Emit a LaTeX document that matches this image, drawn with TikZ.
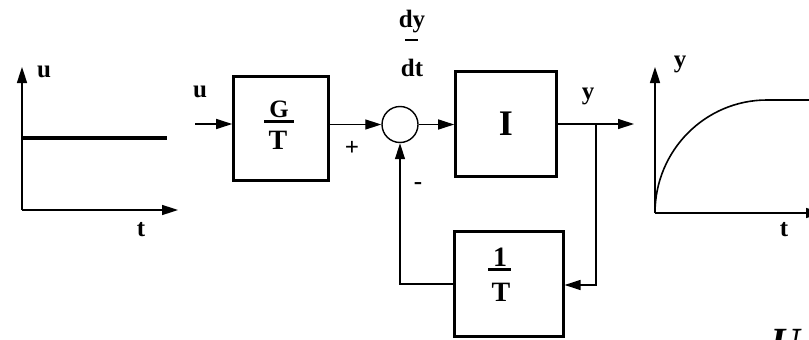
\documentclass[tikz,border=0pt]{standalone}
\usepackage{fontspec}
\setmainfont{Liberation Serif}
\usepackage{tikz}
\usetikzlibrary{positioning,arrows.meta,calc}
\tikzset{
    block/.style={rectangle, draw, line width=2.6pt, inner sep=0pt, align=center},
    sumpoint/.style={circle, draw, line width=1.4pt, minimum size=36pt, inner sep=0pt},
    signal/.style={-{Triangle[length=16pt, width=10pt]}, line width=1.3pt},
    wire/.style={line width=1.3pt},
    axis/.style={-{Triangle[length=16pt, width=10pt]}, line width=1.6pt},
    lbl/.style={font=\fontsize{25}{25}\selectfont\bfseries, inner sep=0pt},
    frac/.style={font=\fontsize{28}{28}\selectfont\bfseries, inner sep=0pt}
}

\begin{document}
\begin{tikzpicture}[x=1pt, y=-1pt]
\useasboundingbox (0,0) rectangle (809,340);
\clip (0,0) rectangle (809,340);

% ── Input signal plot ──
\coordinate (uo) at (22,210);
\draw[axis] (uo) -- (22,67);
\draw[axis] (uo) -- (178,210);
\draw[line width=4pt] (22,138) -- (167,138);
\node[lbl] (ulabel) at (44,72) {u};
\node[lbl] (ut) at (141,230) {t};

% ── Blocks ──
\node[block, minimum width=95pt, minimum height=104pt] (gblock) at (281,128.5) {};
\node[frac, font=\fontsize{25}{25}\selectfont\bfseries] (gnum) at (279,109) {G};
\draw[line width=2.2pt] (264,121.5) -- (294,121.5);
\node[frac] (gden) at (278,140) {T};

\node[sumpoint] (sum) at (400,124.5) {};

\node[block, minimum width=101pt, minimum height=105pt, font=\fontsize{36}{36}\selectfont\bfseries] (iblock) at (506,124) {I};

\node[block, minimum width=108.5pt, minimum height=105pt] (tblock) at (509,284) {};
\node[frac] (tnum) at (500,257) {1};
\draw[line width=2.2pt] (488,269.5) -- (511,269.5);
\node[frac] (tden) at (501,292) {T};

% ── Labels ──
\node[lbl] (uin) at (200,92) {u};
\node[lbl] (dy) at (412,22) {dy};
\draw[line width=1.3pt] (405,40) -- (418,40);
\node[lbl] (dt) at (412,68) {dt};
\node[lbl] (plus) at (352,148) {+};
\node[lbl] (minus) at (418,186) {-};
\node[lbl] (yout) at (588,96) {y};

% ── Connections ──
\coordinate (uin0) at (195,124);
\coordinate (branch) at (596,124);
\coordinate (yend) at (634,124);
\draw[signal] (uin0) -- (gblock.west |- uin0);
\draw[signal] (gblock.east |- sum) -- (sum);
\draw[signal] (sum) -- (iblock.west |- sum);
\draw[signal] (iblock.east |- branch) -- (yend);
\draw[signal] (branch) |- ($(tblock.east)+(0,1)$);
\draw[signal] (tblock.west) -| (sum.south);

% ── Output signal plot ──
\coordinate (yo) at (655,213);
\draw[axis] (yo) -- (655,67);
\draw[axis] (yo) -- (822,213);
\draw[line width=1.6pt] (yo) arc[start angle=180, end angle=90, x radius=112, y radius=-113] -- (809,100);
\node[lbl] (ylabel) at (680,64) {y};
\node[lbl] (yt) at (784,230) {t};

% ── Caption (cut off) ──
\node[font=\fontsize{40}{40}\selectfont\bfseries\itshape, anchor=north, inner sep=0pt] (caption) at (786,329) {U};

\end{tikzpicture}
\end{document}
